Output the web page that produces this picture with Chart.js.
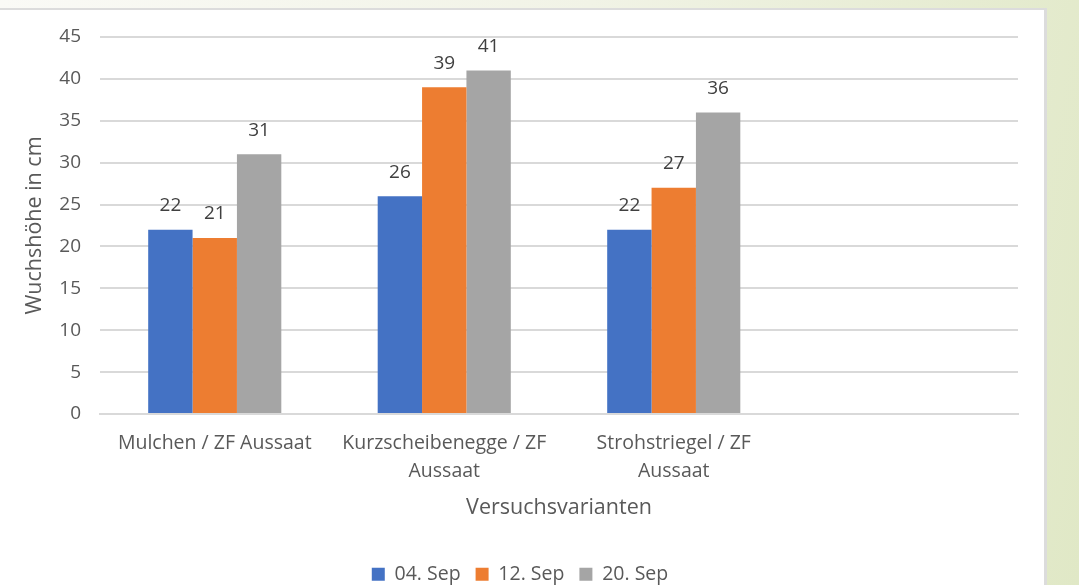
<!doctype html>
<html lang="de">
<head>
    <meta charset="UTF-8">
    <title>Wuchshöhe</title>
    <script src="https://cdn.jsdelivr.net/npm/chart.js"></script>
    <style>
        html, body {
            margin: 0;
            padding: 0;
        }
        body {
            width: 1079px;
            height: 585px;
            overflow: hidden;
            position: relative;
            background: linear-gradient(100deg, #fafaf6 0%, #f1f3e6 50%, #e0e8c6 100%);
        }
        .card {
            position: absolute;
            left: -10px;
            top: 8px;
            width: 1054px;
            height: 600px;
            background: #fff;
            border-style: solid;
            border-color: #dcdcdc;
            border-width: 2px 3px 0 0;
        }
        #chartWrap {
            position: absolute;
            left: 0;
            top: 0;
            width: 1079px;
            height: 585px;
        }
    </style>
</head>
<body>
    <div class="card"></div>
    <div id="chartWrap">
        <canvas id="heightChart"></canvas>
    </div>

    <script>
        const categories = [
            'Mulchen / ZF Aussaat',
            ['Kurzscheibenegge / ZF', 'Aussaat'],
            ['Strohstriegel / ZF', 'Aussaat'],
            ''
        ];
        const seriesNames = ['04. Sep', '12. Sep', '20. Sep'];
        const sep04 = [22, 26, 22, null];
        const sep12 = [21, 39, 27, null];
        const sep20 = [31, 41, 36, null];
        const yTicks = [0, 5, 10, 15, 20, 25, 30, 35, 40, 45];

        const colors = ['#4472c4', '#ed7d31', '#a5a5a5'];
        const fontFamily = '"Open Sans", sans-serif';

        // value labels over each bar
        const valueLabels = {
            id: 'valueLabels',
            afterDatasetsDraw(chart) {
                const ctx = chart.ctx;
                ctx.save();
                ctx.font = '19px ' + fontFamily;
                ctx.fillStyle = '#404040';
                ctx.textAlign = 'center';
                ctx.textBaseline = 'middle';
                chart.data.datasets.forEach((ds, i) => {
                    chart.getDatasetMeta(i).data.forEach((bar, j) => {
                        if (ds.data[j] == null) return;
                        ctx.fillText(String(ds.data[j]), bar.x, bar.y - 24);
                    });
                });
                ctx.restore();
            }
        };

        // legend sits centred under the whole card, not only the plot
        const legendShift = {
            id: 'legendShift',
            afterLayout(chart) {
                if (!chart.legend) return;
                chart.legend.left += 11;
                chart.legend.right += 11;
            }
        };

        const ctx = document.getElementById('heightChart').getContext('2d');
        new Chart(ctx, {
            type: 'bar',
            data: {
                labels: categories,
                datasets: [
                    { label: seriesNames[0], data: sep04, backgroundColor: colors[0] },
                    { label: seriesNames[1], data: sep12, backgroundColor: colors[1] },
                    { label: seriesNames[2], data: sep20, backgroundColor: colors[2] }
                ]
            },
            options: {
                responsive: true,
                maintainAspectRatio: false,
                animation: false,
                events: [],
                datasets: {
                    bar: {
                        categoryPercentage: 0.58,
                        barPercentage: 1.0
                    }
                },
                layout: {
                    padding: { left: 0, right: 61, top: 37, bottom: -9 }
                },
                scales: {
                    x: {
                        grid: { display: false, drawTicks: false },
                        border: { color: '#d9d9d9', width: 2 },
                        ticks: {
                            color: '#595959',
                            font: { family: fontFamily, size: 19.5, lineHeight: 1.45 },
                            maxRotation: 0,
                            autoSkip: false,
                            padding: 15
                        },
                        title: {
                            display: true,
                            text: 'Versuchsvarianten',
                            color: '#595959',
                            font: { family: fontFamily, size: 21.5 },
                            padding: { top: 0, bottom: 29 }
                        },
                        afterFit(scale) { scale.height = 135.5; }
                    },
                    y: {
                        min: 0,
                        max: 45,
                        afterBuildTicks(scale) {
                            scale.ticks = yTicks.map(v => ({ value: v }));
                        },
                        grid: { color: '#d9d9d9', lineWidth: 2, drawTicks: false },
                        border: { display: false },
                        ticks: {
                            color: '#595959',
                            font: { family: fontFamily, size: 19 },
                            padding: 19
                        },
                        title: {
                            display: true,
                            text: 'Wuchshöhe in cm',
                            color: '#595959',
                            font: { family: fontFamily, size: 21.5 },
                            padding: { top: 22, bottom: 0 }
                        },
                        afterFit(scale) { scale.width = 100; }
                    }
                },
                plugins: {
                    legend: {
                        position: 'bottom',
                        labels: {
                            color: '#595959',
                            font: { family: fontFamily, size: 19.5 },
                            boxWidth: 13,
                            boxHeight: 13,
                            padding: 15
                        }
                    },
                    tooltip: { enabled: false }
                }
            },
            plugins: [valueLabels, legendShift]
        });
    </script>
</body>
</html>
